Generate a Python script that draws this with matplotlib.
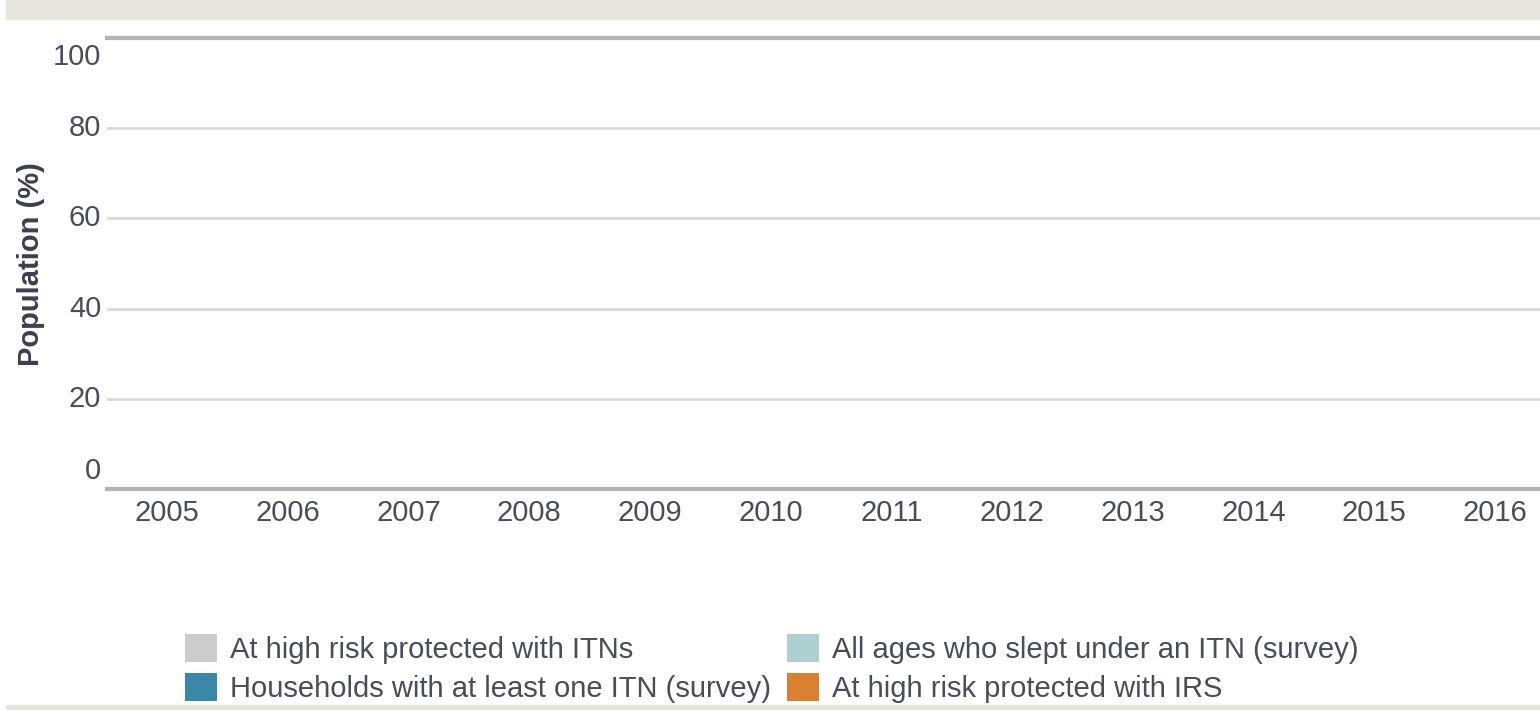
import matplotlib
matplotlib.use("Agg")
import matplotlib.pyplot as plt
from matplotlib.patches import Patch, Rectangle

plt.rcParams['font.family'] = ['Liberation Sans', 'DejaVu Sans']

# chart has no plotted values, only axes + legend
years = ['2005', '2006', '2007', '2008', '2009', '2010',
         '2011', '2012', '2013', '2014', '2015', '2016']
yticks = [0, 20, 40, 60, 80, 100]
series = ['At high risk protected with ITNs',
          'Households with at least one ITN (survey)',
          'All ages who slept under an ITN (survey)',
          'At high risk protected with IRS']
colors = ['#cccccc', '#3a87a8', '#aed0d1', '#d98033']

txt = '#4a4b5c'

fig = plt.figure(figsize=(15.4, 7.1), dpi=100)

# grey bands top and bottom
fig.patches.append(Rectangle((6 / 1540, 1 - 19 / 710), 1, 19 / 710,
                             transform=fig.transFigure, color='#e6e5e0', zorder=0))
fig.patches.append(Rectangle((6 / 1540, 0), 1, 5 / 710,
                             transform=fig.transFigure, color='#e6e5e0', zorder=0))

ax = fig.add_axes([107 / 1540, 1 - 489 / 710, 1448 / 1540, 451 / 710])
ax.set_xlim(-0.5, len(years) - 0.5)
ax.set_ylim(0, 100)

for s in ax.spines.values():
    s.set_visible(False)

for v in yticks:
    if v in (0, 100):
        ax.axhline(v, color='#b3b3b3', lw=3, zorder=2, clip_on=False)
    else:
        ax.axhline(v, color='#d9d9d9', lw=2, zorder=1)

ax.set_yticks([])
ax.set_xticks(range(len(years)))
ax.set_xticklabels(years, fontsize=21, color=txt)
ax.tick_params(axis='x', length=0, pad=7.5)

# y labels, end labels nudged inside like the original
for v in yticks:
    off = {0: 0.04, 100: -0.043}.get(v, 0)
    ax.text(-0.004, v / 100 + off, str(v), transform=ax.transAxes,
            ha='right', va='center', fontsize=21, color=txt)

fig.text(31 / 1540, 1 - 264 / 710, 'Population (%)', rotation=90,
         ha='center', va='center', fontsize=21, fontweight='bold', color='#3d3e4e')

handles = [Patch(facecolor=c, edgecolor='none', label=n) for c, n in zip(colors, series)]
leg = fig.legend(handles=handles, ncol=2, loc='upper left',
                 bbox_to_anchor=(185 / 1540, 1 - 634 / 710),
                 frameon=False, fontsize=21, labelcolor=txt,
                 handlelength=1.1, handleheight=1.1, handletextpad=0.45,
                 columnspacing=0.55, labelspacing=0.3, borderpad=0, borderaxespad=0)

fig.savefig('out.png', dpi=100)
